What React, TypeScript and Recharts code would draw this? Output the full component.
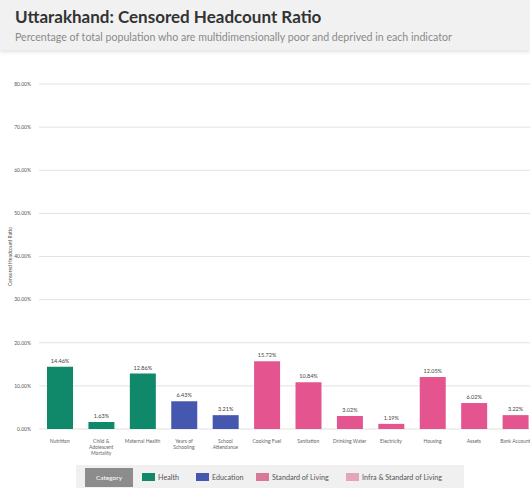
import React from 'react';
import { BarChart, Bar, XAxis, YAxis, CartesianGrid, Cell, LabelList } from 'recharts';

const categories = [
  'Nutrition',
  'Child & Adolescent Mortality',
  'Maternal Health',
  'Years of Schooling',
  'School Attendance',
  'Cooking Fuel',
  'Sanitation',
  'Drinking Water',
  'Electricity',
  'Housing',
  'Assets',
  'Bank Account',
];
const tickLines = [
  ['Nutrition'],
  ['Child &', 'Adolescent', 'Mortality'],
  ['Maternal Health'],
  ['Years of', 'Schooling'],
  ['School', 'Attendance'],
  ['Cooking Fuel'],
  ['Sanitation'],
  ['Drinking Water'],
  ['Electricity'],
  ['Housing'],
  ['Assets'],
  ['Bank Account'],
];
const dimensions = [
  'Health', 'Health', 'Health',
  'Education', 'Education',
  'Standard of Living', 'Standard of Living', 'Standard of Living',
  'Standard of Living', 'Standard of Living', 'Standard of Living', 'Standard of Living',
];
const values = [14.46, 1.63, 12.86, 6.43, 3.21, 15.72, 10.84, 3.02, 1.19, 12.05, 6.02, 3.22];
const yTicks = [0, 10, 20, 30, 40, 50, 60, 70, 80];
const legendItems = ['Health', 'Education', 'Standard of Living', 'Infra & Standard of Living'];

const colors: Record<string, string> = {
  Health: '#10886a',
  Education: '#4657b0',
  'Standard of Living': '#e4558f',
};
const legendColors = ['#10886a', '#4657b0', '#d7799b', '#e3a4bd'];
// left edge of each legend entry
const legendLeft = [142, 196, 256, 346];

const data = categories.map((name, i) => ({ name, value: values[i], dim: dimensions[i] }));

const FONT = 'Lato, "Open Sans", sans-serif';

const XTick = (props: any) => {
  const { x, y, index } = props;
  const lines = tickLines[index] || [];
  return (
    <text x={x} y={y + 6} textAnchor="middle" fontSize={5} fill="#666" fontFamily={FONT}>
      {lines.map((l, i) => (
        <tspan key={i} x={x} dy={i === 0 ? 0 : 6}>{l}</tspan>
      ))}
    </text>
  );
};

const App: React.FC = () => {
  return (
    <div style={{ position: 'absolute', left: 0, top: 0, width: 530, height: 488, overflow: 'hidden', background: '#fff', fontFamily: FONT }}>
      <div style={{ position: 'absolute', left: 0, top: 0, width: 530, height: 50, background: '#f1f1f1', boxShadow: '0 2px 4px rgba(0,0,0,0.12)' }}>
        <div style={{ position: 'absolute', left: 15, top: 6, fontSize: 17, fontWeight: 700, color: '#333', whiteSpace: 'nowrap' }}>
          Uttarakhand: Censored Headcount Ratio
        </div>
        <div style={{ position: 'absolute', left: 15, top: 31, fontSize: 10.6, color: '#8a8a8a', whiteSpace: 'nowrap' }}>
          Percentage of total population who are multidimensionally poor and deprived in each indicator
        </div>
      </div>

      <div style={{ position: 'absolute', left: 0, top: 50 }}>
        <BarChart
          width={536}
          height={410}
          data={data}
          margin={{ top: 34, right: 0, bottom: 0, left: 0 }}
          barSize={26}
        >
          <CartesianGrid vertical={false} stroke="#e2e2e2" />
          <XAxis
            dataKey="name"
            interval={0}
            axisLine={false}
            tickLine={false}
            height={31}
            tick={<XTick />}
          />
          <YAxis
            width={39}
            domain={[0, 80]}
            ticks={yTicks}
            axisLine={false}
            tickLine={false}
            tickFormatter={(v: number) => `${v.toFixed(2)}%`}
            tick={{ fontSize: 5, fill: '#555', fontFamily: FONT }}
            label={{
              value: 'Censored Headcount Ratio',
              angle: -90,
              position: 'insideLeft',
              offset: 10,
              style: { fontSize: 5, fill: '#555', fontFamily: FONT, textAnchor: 'middle' },
            }}
          />
          <Bar dataKey="value" isAnimationActive={false}>
            {data.map((d, i) => (
              <Cell key={i} fill={colors[d.dim]} />
            ))}
            <LabelList
              dataKey="value"
              position="top"
              offset={4}
              formatter={(v: any) => `${Number(v).toFixed(2)}%`}
              style={{ fontSize: 5.5, fill: '#444', fontFamily: FONT }}
            />
          </Bar>
        </BarChart>
      </div>

      <div style={{ position: 'absolute', left: 76, top: 465, width: 388, height: 23, background: '#f0f0f0' }} />
      <div style={{ position: 'absolute', left: 85, top: 468, width: 48, height: 19, background: '#8c8c8c', color: '#fff', fontSize: 6.5, display: 'flex', alignItems: 'center', justifyContent: 'center' }}>
        Category
      </div>
      {legendItems.map((item, i) => (
        <div key={item} style={{ position: 'absolute', left: legendLeft[i], top: 471, height: 12, display: 'flex', alignItems: 'center', fontSize: 7.2, color: '#555', whiteSpace: 'nowrap' }}>
          <div style={{ width: 13, height: 8, background: legendColors[i], marginRight: 3 }} />
          <span>{item}</span>
        </div>
      ))}
    </div>
  );
};

export default App;
